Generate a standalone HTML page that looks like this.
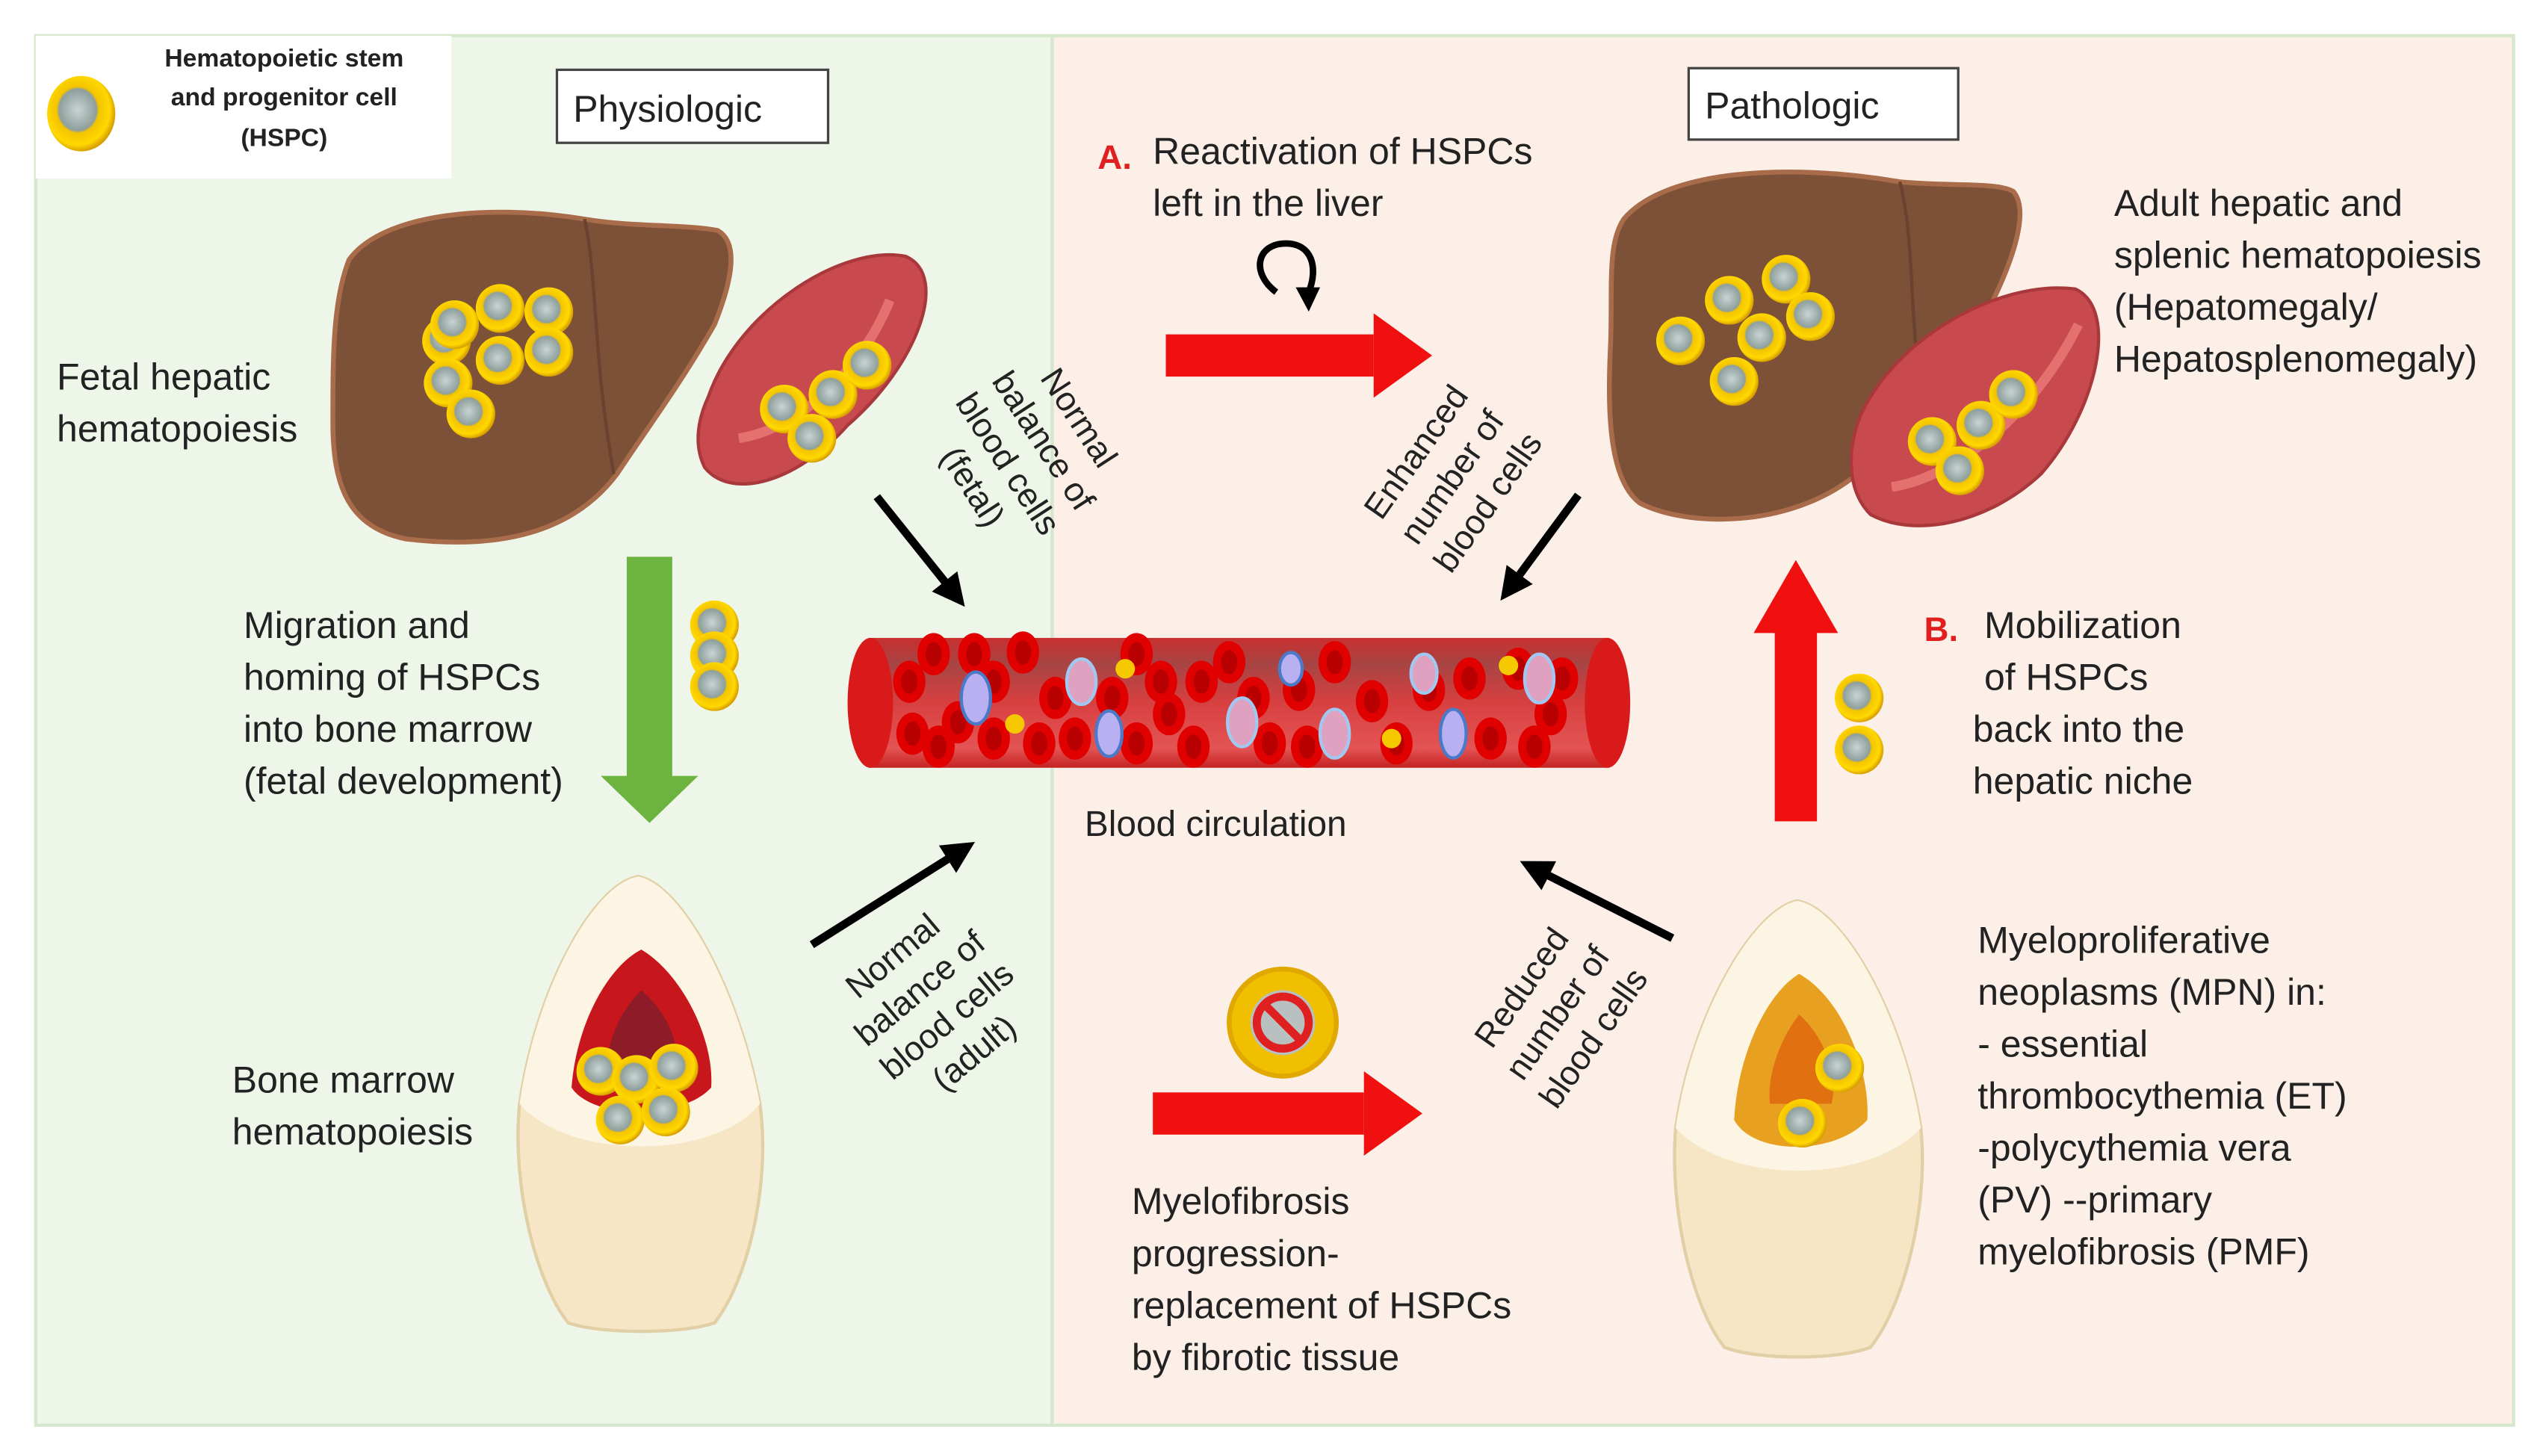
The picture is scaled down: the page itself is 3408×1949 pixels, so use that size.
<!DOCTYPE html>
<html><head><meta charset="utf-8"><style>
html,body{margin:0;padding:0;background:#fff;}
svg{display:block;}
text{font-family:"Liberation Sans",sans-serif;fill:#222;}
</style></head><body>
<svg width="3408" height="1949" viewBox="0 0 1568 897" preserveAspectRatio="none" xmlns="http://www.w3.org/2000/svg">
<defs>
<radialGradient id="cell" cx="0.45" cy="0.45" r="0.55">
<stop offset="0" stop-color="#c9d4d2"/><stop offset="0.5" stop-color="#8e9f9c"/><stop offset="0.56" stop-color="#f3c400"/><stop offset="0.85" stop-color="#ffd800"/><stop offset="1" stop-color="#d8a000"/></radialGradient>
<linearGradient id="vessel" x1="0" y1="0" x2="0" y2="1">
<stop offset="0" stop-color="#c9302f"/><stop offset="0.2" stop-color="#a74444"/><stop offset="0.5" stop-color="#d84040"/><stop offset="0.85" stop-color="#e45454"/><stop offset="1" stop-color="#c42222"/></linearGradient>
<g id="c"><circle r="15" fill="url(#cell)"/></g>
<g id="rbc"><ellipse rx="10" ry="13" fill="#e00000"/><ellipse rx="5" ry="7.5" fill="#b80000"/></g>
<marker id="ah" markerWidth="4" markerHeight="4" refX="2" refY="2" orient="auto"><path d="M0,0 L4,2 L0,4 Z" fill="#000"/></marker>
</defs>
<rect width="1568" height="897" fill="#fff"/>
<rect x="22" y="22" width="626" height="856" fill="#eef6ea" stroke="#d5e8cd" stroke-width="2"/>
<rect x="648" y="22" width="900" height="856" fill="#fcefe7" stroke="#d5e8cd" stroke-width="2"/>
<rect x="22" y="22" width="256" height="88" fill="#fff"/>
<g transform="translate(50,70) scale(1.4,1.55)"><circle r="15" fill="url(#cell)"/></g>
<g font-weight="bold" font-size="15.5" text-anchor="middle">
<text x="175" y="41">Hematopoietic stem</text><text x="175" y="65">and progenitor cell</text><text x="175" y="90">(HSPC)</text></g>
<rect x="343" y="43" width="167" height="45" fill="#fff" stroke="#444" stroke-width="1.5"/>
<text x="353" y="75" font-size="23">Physiologic</text>
<rect x="1040" y="42" width="166" height="44" fill="#fff" stroke="#444" stroke-width="1.5"/>
<text x="1050" y="73" font-size="23">Pathologic</text>

<!-- fetal liver -->
<path d="M215,160 C235,132 300,125 360,135 C390,140 420,138 442,142 C456,150 450,175 440,200 C420,235 400,262 380,292 C350,332 300,338 250,332 C215,325 205,300 205,260 C205,220 205,185 215,160 Z" fill="#7d5038" stroke="#a86c4a" stroke-width="3"/>
<path d="M360,135 C368,170 365,220 378,292" stroke="#6a4230" stroke-width="2" fill="none"/>
<g><use href="#c" x="275" y="210"/><use href="#c" x="308" y="190"/><use href="#c" x="338" y="192"/><use href="#c" x="280" y="200"/><use href="#c" x="308" y="222"/><use href="#c" x="338" y="217"/><use href="#c" x="276" y="236"/><use href="#c" x="290" y="255"/></g>
<path d="M436,245 C455,190 520,150 558,158 C585,170 565,225 522,262 C490,298 450,308 434,288 C427,274 430,258 436,245 Z" fill="#c84a4e" stroke="#a8383c" stroke-width="2"/>
<path d="M455,270 C490,265 530,230 548,185" stroke="#e47070" stroke-width="6" fill="none"/>
<use href="#c" x="483" y="252"/><use href="#c" x="513" y="243"/><use href="#c" x="534" y="225"/><use href="#c" x="500" y="270"/>

<text x="35" y="240" font-size="23">Fetal hepatic</text>
<text x="35" y="272" font-size="23">hematopoiesis</text>
<g font-size="21" text-anchor="middle" transform="translate(625,283) rotate(57)">
<text x="0" y="-40">Normal</text><text x="0" y="-14">balance of</text><text x="0" y="12">blood cells</text><text x="0" y="38">(fetal)</text></g>
<line x1="540" y1="306" x2="588" y2="366" stroke="#000" stroke-width="5" marker-end="url(#ah)"/>

<!-- green arrow -->
<rect x="386" y="343" width="28" height="140" fill="#6db33f"/>
<path d="M370,478 L430,478 L400,507 Z" fill="#6db33f"/>
<use href="#c" x="440" y="385"/><use href="#c" x="440" y="404"/><use href="#c" x="440" y="423"/>
<g font-size="23"><text x="150" y="393">Migration and</text><text x="150" y="425">homing of HSPCs</text><text x="150" y="457">into bone marrow</text><text x="150" y="489">(fetal development)</text></g>

<!-- vessel -->
<rect x="535" y="393" width="456" height="80" fill="url(#vessel)"/>
<ellipse cx="536" cy="433" rx="14" ry="40" fill="#d81a1a"/>
<ellipse cx="990" cy="433" rx="14" ry="40" fill="#d81a1a"/>
<g>
<use href="#rbc" x="560" y="420"/><use href="#rbc" x="575" y="403"/><use href="#rbc" x="562" y="452"/><use href="#rbc" x="590" y="445"/><use href="#rbc" x="578" y="460"/><use href="#rbc" x="612" y="420"/><use href="#rbc" x="612" y="455"/><use href="#rbc" x="630" y="402"/><use href="#rbc" x="650" y="430"/><use href="#rbc" x="640" y="458"/><use href="#rbc" x="662" y="455"/><use href="#rbc" x="685" y="430"/><use href="#rbc" x="700" y="458"/><use href="#rbc" x="720" y="440"/><use href="#rbc" x="740" y="420"/><use href="#rbc" x="757" y="408"/><use href="#rbc" x="735" y="460"/><use href="#rbc" x="772" y="430"/><use href="#rbc" x="782" y="458"/><use href="#rbc" x="800" y="425"/><use href="#rbc" x="805" y="460"/><use href="#rbc" x="822" y="408"/><use href="#rbc" x="845" y="432"/><use href="#rbc" x="860" y="458"/><use href="#rbc" x="880" y="425"/><use href="#rbc" x="905" y="418"/><use href="#rbc" x="918" y="455"/><use href="#rbc" x="935" y="412"/><use href="#rbc" x="955" y="440"/><use href="#rbc" x="962" y="418"/><use href="#rbc" x="945" y="460"/><use href="#rbc" x="700" y="403"/><use href="#rbc" x="600" y="403"/><use href="#rbc" x="715" y="420"/>
<ellipse cx="601" cy="430" rx="9" ry="16" fill="#b8b0f0" stroke="#4a7ac8" stroke-width="2"/>
<ellipse cx="683" cy="452" rx="8" ry="14" fill="#b8b0f0" stroke="#4a7ac8" stroke-width="2"/>
<ellipse cx="895" cy="452" rx="8" ry="15" fill="#b8b0f0" stroke="#4a7ac8" stroke-width="2"/>
<ellipse cx="795" cy="412" rx="7" ry="10" fill="#b8b0f0" stroke="#4a7ac8" stroke-width="2"/>
<ellipse cx="666" cy="420" rx="9" ry="14" fill="#e0a0c0" stroke="#a0c8f0" stroke-width="2"/>
<ellipse cx="765" cy="445" rx="9" ry="15" fill="#e0a0c0" stroke="#a0c8f0" stroke-width="2"/>
<ellipse cx="822" cy="452" rx="9" ry="15" fill="#e0a0c0" stroke="#a0c8f0" stroke-width="2"/>
<ellipse cx="877" cy="415" rx="8" ry="12" fill="#e0a0c0" stroke="#a0c8f0" stroke-width="2"/>
<ellipse cx="948" cy="418" rx="9" ry="15" fill="#e0a0c0" stroke="#a0c8f0" stroke-width="2"/>
<circle cx="625" cy="446" r="6" fill="#f5c800"/><circle cx="693" cy="412" r="6" fill="#f5c800"/><circle cx="857" cy="455" r="6" fill="#f5c800"/><circle cx="929" cy="410" r="6" fill="#f5c800"/>
</g>
<text x="668" y="515" font-size="22">Blood circulation</text>

<!-- left bone -->
<path d="M393,540 C420,545 455,610 468,680 C475,730 460,790 440,815 C420,822 370,822 350,815 C330,790 315,730 320,680 C330,610 365,545 393,540 Z" fill="#f6e6c6" stroke="#e2cfa5" stroke-width="2"/>
<path d="M393,540 C420,545 455,610 468,680 C440,715 350,715 320,680 C330,610 365,545 393,540 Z" fill="#fdf5e4"/>
<path d="M395,585 C420,600 440,640 438,670 C420,690 365,690 352,670 C355,630 375,595 395,585 Z" fill="#c8161d"/>
<path d="M395,610 C412,625 420,645 415,660 L375,660 C372,640 385,620 395,610 Z" fill="#8e1c28"/>
<use href="#c" x="370" y="660"/><use href="#c" x="392" y="665"/><use href="#c" x="415" y="658"/><use href="#c" x="382" y="690"/><use href="#c" x="410" y="685"/>
<g font-size="23"><text x="143" y="673">Bone marrow</text><text x="143" y="705">hematopoiesis</text></g>
<line x1="500" y1="582" x2="592" y2="524" stroke="#000" stroke-width="5" marker-end="url(#ah)"/>
<g font-size="21" text-anchor="middle" transform="translate(580,625) rotate(-40)">
<text x="0" y="-40">Normal</text><text x="0" y="-14">balance of</text><text x="0" y="12">blood cells</text><text x="0" y="38">(adult)</text></g>

<!-- A -->
<text x="676" y="104" font-size="21" font-weight="bold" style="fill:#e02020">A.</text>
<g font-size="23"><text x="710" y="101">Reactivation of HSPCs</text><text x="710" y="133">left in the liver</text></g>
<path d="M786,180 C770,168 774,150 792,150 C808,150 812,165 806,180" fill="none" stroke="#000" stroke-width="4"/>
<path d="M798,177 L813,177 L806,192 Z" fill="#000"/>
<rect x="718" y="206" width="128" height="26" fill="#f01010"/>
<path d="M846,193 L882,219 L846,245 Z" fill="#f01010"/>
<g font-size="21" text-anchor="middle" transform="translate(900,298) rotate(-55)">
<text x="0" y="-27">Enhanced</text><text x="0" y="0">number of</text><text x="0" y="27">blood cells</text></g>
<line x1="972" y1="305" x2="930" y2="362" stroke="#000" stroke-width="5" marker-end="url(#ah)"/>

<!-- adult liver -->
<path d="M1000,135 C1025,105 1100,100 1170,112 C1200,115 1230,112 1240,118 C1250,130 1240,160 1225,190 C1200,235 1170,270 1140,295 C1100,325 1040,325 1010,310 C990,295 990,250 992,210 C993,175 990,150 1000,135 Z" fill="#7d5038" stroke="#a86c4a" stroke-width="3"/>
<path d="M1170,112 C1180,150 1175,200 1185,250" stroke="#6a4230" stroke-width="2" fill="none"/>
<use href="#c" x="1035" y="210"/><use href="#c" x="1065" y="185"/><use href="#c" x="1100" y="172"/><use href="#c" x="1115" y="195"/><use href="#c" x="1085" y="208"/><use href="#c" x="1068" y="235"/>
<path d="M1145,258 C1165,210 1230,172 1278,178 C1305,190 1292,252 1257,292 C1225,322 1180,332 1152,317 C1137,302 1138,277 1145,258 Z" fill="#c84a4e" stroke="#a8383c" stroke-width="2"/>
<path d="M1165,300 C1200,295 1250,260 1280,200" stroke="#e47070" stroke-width="6" fill="none"/>
<use href="#c" x="1190" y="272"/><use href="#c" x="1220" y="262"/><use href="#c" x="1240" y="243"/><use href="#c" x="1207" y="290"/>
<g font-size="23"><text x="1302" y="133">Adult hepatic and</text><text x="1302" y="165">splenic hematopoiesis</text><text x="1302" y="197">(Hepatomegaly/</text><text x="1302" y="229">Hepatosplenomegaly)</text></g>

<!-- B -->
<rect x="1093" y="388" width="26" height="118" fill="#f01010"/>
<path d="M1080,390 L1132,390 L1106,345 Z" fill="#f01010"/>
<use href="#c" x="1145" y="430"/><use href="#c" x="1145" y="462"/>
<text x="1185" y="395" font-size="21" font-weight="bold" style="fill:#e02020">B.</text>
<g font-size="23"><text x="1222" y="393">Mobilization</text><text x="1222" y="425">of HSPCs</text><text x="1215" y="457">back into the</text><text x="1215" y="489">hepatic niche</text></g>

<line x1="1030" y1="578" x2="945" y2="535" stroke="#000" stroke-width="5" marker-end="url(#ah)"/>
<g font-size="21" text-anchor="middle" transform="translate(965,628) rotate(-55)">
<text x="0" y="-27">Reduced</text><text x="0" y="0">number of</text><text x="0" y="27">blood cells</text></g>

<!-- right bone -->
<path d="M1107,555 C1135,560 1172,625 1183,695 C1188,745 1172,805 1152,830 C1132,838 1082,838 1062,830 C1042,805 1028,745 1032,695 C1042,625 1080,560 1107,555 Z" fill="#f6e6c6" stroke="#e2cfa5" stroke-width="2"/>
<path d="M1107,555 C1135,560 1172,625 1183,695 C1150,730 1065,730 1032,695 C1042,625 1080,560 1107,555 Z" fill="#fdf5e4"/>
<path d="M1108,600 C1135,615 1152,660 1150,690 C1130,712 1080,712 1068,690 C1070,650 1088,612 1108,600 Z" fill="#e8a020"/>
<path d="M1108,625 C1125,640 1132,665 1128,680 L1090,680 C1088,660 1098,638 1108,625 Z" fill="#e07010"/>
<use href="#c" x="1133" y="658"/><use href="#c" x="1110" y="692"/>
<g font-size="23"><text x="1218" y="587">Myeloproliferative</text><text x="1218" y="619">neoplasms (MPN) in:</text><text x="1218" y="651">- essential</text><text x="1218" y="683">thrombocythemia (ET)</text><text x="1218" y="715">-polycythemia vera</text><text x="1218" y="747">(PV) --primary</text><text x="1218" y="779">myelofibrosis (PMF)</text></g>

<!-- inhibit -->
<circle cx="790" cy="630" r="33" fill="#f0c000" stroke="#e0a800" stroke-width="3"/>
<circle cx="790" cy="630" r="20" fill="#b8c0c0"/>
<circle cx="790" cy="630" r="16" fill="none" stroke="#e02020" stroke-width="5"/>
<line x1="779" y1="619" x2="801" y2="641" stroke="#e02020" stroke-width="5"/>
<rect x="710" y="673" width="130" height="26" fill="#f01010"/>
<path d="M840,660 L876,686 L840,712 Z" fill="#f01010"/>
<g font-size="23"><text x="697" y="748">Myelofibrosis</text><text x="697" y="780">progression-</text><text x="697" y="812">replacement of HSPCs</text><text x="697" y="844">by fibrotic tissue</text></g>
</svg>
</body></html>
